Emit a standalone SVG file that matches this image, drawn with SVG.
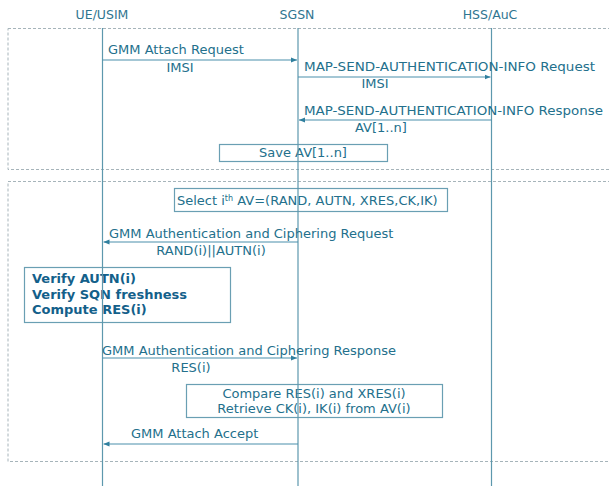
<svg xmlns="http://www.w3.org/2000/svg" width="609" height="486" viewBox="0 0 609 486">
<style>
text{font-family:"DejaVu Sans","Liberation Sans",sans-serif;font-size:13px;fill:#23708c}
.hdr{font-size:12.5px;fill:#2f7590}
.b{font-weight:bold;fill:#13608a}
.life{stroke:#5d98ad;stroke-width:1.2}
.msg{stroke:#4b90ac;stroke-width:1.2;fill:none}
.box{fill:#fff;stroke:#6a9fb3;stroke-width:1.2}
.sec{fill:none;stroke:#a6b4ba;stroke-width:1;stroke-dasharray:3,2}
</style>
<defs>
<marker id="ah" viewBox="0 0 10 10" refX="10" refY="5" markerWidth="6" markerHeight="6" orient="auto-start-reverse" markerUnits="userSpaceOnUse">
<path d="M0,1 L10,5 L0,9 z" fill="#2f7f9e"/>
</marker>
</defs>
<rect width="609" height="486" fill="#fff"/>
<g id="sections">
<rect class="sec" x="8" y="28.5" width="610" height="141"/>
<rect class="sec" x="8" y="181.5" width="610" height="280"/>
</g>
<g id="lifelines">
<g id="ue"><text class="hdr" x="102" y="19" text-anchor="middle">UE/USIM</text><line class="life" x1="102.5" y1="28" x2="102.5" y2="486"/></g>
<g id="sgsn"><text class="hdr" x="297" y="19" text-anchor="middle">SGSN</text><line class="life" x1="298" y1="28" x2="298" y2="486"/></g>
<g id="hss"><text class="hdr" x="490" y="19" text-anchor="middle">HSS/AuC</text><line class="life" x1="491.5" y1="28" x2="491.5" y2="486"/></g>
</g>
<g id="connectors">
<line class="msg" x1="102.5" y1="60" x2="297" y2="60" marker-end="url(#ah)"/>
<line class="msg" x1="298" y1="77" x2="490.5" y2="77" marker-end="url(#ah)"/>
<line class="msg" x1="491.5" y1="120" x2="299" y2="120" marker-end="url(#ah)"/>
<line class="msg" x1="298" y1="242" x2="103.5" y2="242" marker-end="url(#ah)"/>
<line class="msg" x1="102.5" y1="358" x2="297" y2="358" marker-end="url(#ah)"/>
<line class="msg" x1="298" y1="444" x2="103.5" y2="444" marker-end="url(#ah)"/>
</g>
<g id="labels">
<text x="108" y="54">GMM Attach Request</text>
<text x="180" y="72" text-anchor="middle">IMSI</text>
<text x="304" y="71" textLength="291" lengthAdjust="spacingAndGlyphs">MAP-SEND-AUTHENTICATION-INFO Request</text>
<text x="375" y="88" text-anchor="middle">IMSI</text>
<text x="304" y="115" textLength="299" lengthAdjust="spacingAndGlyphs">MAP-SEND-AUTHENTICATION-INFO Response</text>
<text x="381" y="132" text-anchor="middle">AV[1..n]</text>
<text x="109" y="238">GMM Authentication and Ciphering Request</text>
<text x="211" y="255" text-anchor="middle">RAND(i)||AUTN(i)</text>
<text x="102" y="355">GMM Authentication and Ciphering Response</text>
<text x="191" y="372" text-anchor="middle">RES(i)</text>
<text x="131" y="438">GMM Attach Accept</text>
</g>
<g id="save"><rect class="box" x="219.5" y="144.5" width="168" height="17"/><text x="303" y="157" text-anchor="middle">Save AV[1..n]</text></g>
<g id="select"><rect class="box" x="174.5" y="188.5" width="273" height="23"/><text x="177" y="205" font-size="13.4">Select i<tspan font-size="8" dy="-4">th</tspan><tspan dy="4"> AV=(RAND, AUTN, XRES,CK,IK)</tspan></text></g>
<g id="verify"><rect class="box" x="24.5" y="267.5" width="206" height="55"/>
<text class="b" x="32" y="283">Verify AUTN(i)</text>
<text class="b" x="32" y="299">Verify SQN freshness</text>
<text class="b" x="32" y="314">Compute RES(i)</text></g>
<g id="compare"><rect class="box" x="186.5" y="384.5" width="256" height="33"/>
<text x="314" y="398" text-anchor="middle">Compare RES(i) and XRES(i)</text>
<text x="314" y="413" text-anchor="middle">Retrieve CK(i), IK(i) from AV(i)</text></g>
<line class="life" x1="102.5" y1="267" x2="102.5" y2="323"/>
<line class="life" x1="298" y1="188" x2="298" y2="212"/>
<line class="life" x1="298" y1="144" x2="298" y2="162"/>
<line class="life" x1="298" y1="384" x2="298" y2="418"/>
</svg>
